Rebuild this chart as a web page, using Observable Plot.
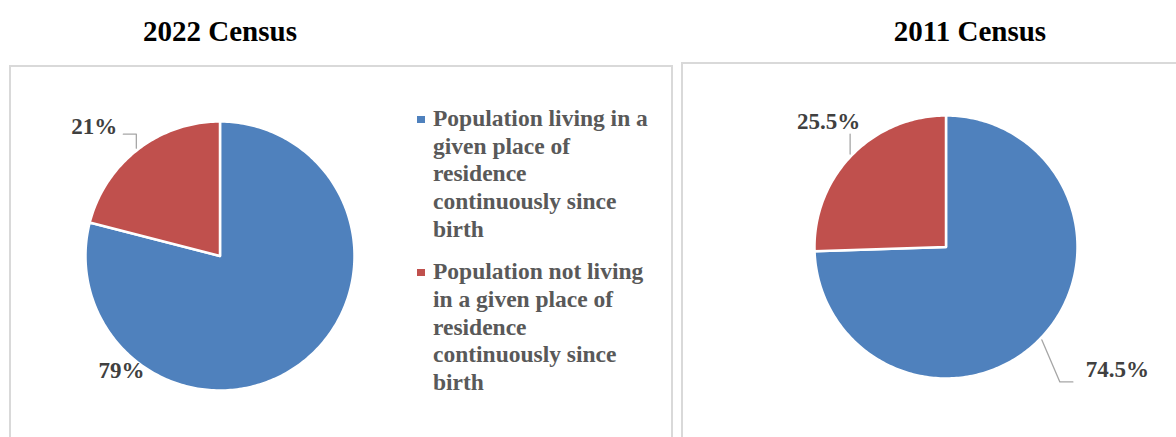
<!DOCTYPE html>
<html>
<head>
<meta charset="utf-8">
<script src="https://cdn.jsdelivr.net/npm/d3@7"></script>
<script src="https://cdn.jsdelivr.net/npm/@observablehq/plot@0.6"></script>
<style>
html, body { margin: 0; padding: 0; background: #fff; }
body { width: 1176px; height: 437px; position: relative; overflow: hidden; font-family: "Liberation Serif", "Times New Roman", serif; }
.panel { position: absolute; box-sizing: border-box; border: 2px solid #d9d9d9; background: #fff; }
.title { position: absolute; top: 14px; width: 300px; text-align: center; font-weight: bold; font-size: 29px; line-height: 34px; color: #000; white-space: nowrap; }
#chart { position: absolute; left: 0; top: 0; }
.legend { position: absolute; left: 433px; top: 105px; width: 221px; font-weight: bold; font-size: 23.5px; line-height: 27.7px; color: #595959; }
.legend .item { position: relative; margin-bottom: 14.8px; }
.legend .sw { position: absolute; left: -16px; top: 11px; width: 8px; height: 7px; }
</style>
</head>
<body>
<div class="panel" style="left:9px; top:65px; width:664px; height:400px;"></div>
<div class="panel" style="left:681px; top:62px; width:520px; height:400px;"></div>
<div id="titles"></div>
<div id="chart"></div>
<div class="legend" id="legend"></div>
<script>
// ---- data ----
const censuses = ["2022 Census", "2011 Census"];
const categories = [
  "Population living in a given place of residence continuously since birth",
  "Population not living in a given place of residence continuously since birth"
];
const shares2022 = [79, 21];
const shares2011 = [74.5, 25.5];
const labels2022 = ["79%", "21%"];
const labels2011 = ["74.5%", "25.5%"];
const colors = ["#4F81BD", "#C0504D"];

// ---- layout (positions/styles) ----
const W = 1176, H = 437;
const pieGeom = {
  "2022 Census": {cx: 219.5, cy: 255.5, r: 134.5, titleX: 220},
  "2011 Census": {cx: 945.5, cy: 246.5, r: 131.5, titleX: 970}
};
const labelLayout = {
  "2022 Census": [
    {angle: 225, dx: -2, dy: 25, anchor: "middle", leader: []},
    {dx: -19, dy: -14, anchor: "end", leader: [[0, -14], [-13, -14]]}
  ],
  "2011 Census": [
    {dx: 44, dy: 37, anchor: "start", leader: [[18, 42], [31, 42]]},
    {dx: 10, dy: -25, anchor: "end", leader: [[0, -20]]}
  ]
};

const sharesBy = {"2022 Census": shares2022, "2011 Census": shares2011};
const labelsBy = {"2022 Census": labels2022, "2011 Census": labels2011};

// titles
const titles = document.getElementById("titles");
for (const c of censuses) {
  const d = document.createElement("div");
  d.className = "title";
  d.style.left = (pieGeom[c].titleX - 150) + "px";
  d.textContent = c;
  titles.appendChild(d);
}

// legend
const legend = document.getElementById("legend");
categories.forEach((cat, i) => {
  const it = document.createElement("div");
  it.className = "item";
  const sw = document.createElement("span");
  sw.className = "sw";
  sw.style.background = colors[i];
  it.appendChild(sw);
  it.appendChild(document.createTextNode(cat));
  legend.appendChild(it);
});

// build geometry from values
const slicePts = [];
const leaderPts = [];
const labelRows = [];
for (const c of censuses) {
  const g = pieGeom[c];
  const rows = categories.map((cat, i) => ({census: c, category: cat, value: sharesBy[c][i], label: labelsBy[c][i], i}));
  const arcs = d3.pie().sort(null).value(d => d.value)(rows);
  arcs.forEach(a => {
    const key = c + "|" + a.data.category;
    const pt = (ang, rr) => ({x: g.cx + rr * Math.sin(ang), y: g.cy - rr * Math.cos(ang)});
    slicePts.push({key, category: a.data.category, x: g.cx, y: g.cy});
    const n = Math.max(2, Math.ceil((a.endAngle - a.startAngle) * 180 / Math.PI));
    for (let k = 0; k <= n; k++) {
      const ang = a.startAngle + (a.endAngle - a.startAngle) * k / n;
      slicePts.push({key, category: a.data.category, ...pt(ang, g.r)});
    }
    slicePts.push({key, category: a.data.category, x: g.cx, y: g.cy});
    const L = labelLayout[c][a.data.i];
    const mid = L.angle != null ? L.angle * Math.PI / 180 : (a.startAngle + a.endAngle) / 2;
    const anchor = pt(mid, g.r + 2);
    if (L.leader.length) {
      leaderPts.push({key, x: anchor.x, y: anchor.y});
      for (const [dx, dy] of L.leader) leaderPts.push({key, x: anchor.x + dx, y: anchor.y + dy});
    }
    labelRows.push({x: anchor.x + L.dx, y: anchor.y + L.dy, text: a.data.label, anchor: L.anchor});
  });
}

const textMarks = ["start", "middle", "end"].map(an =>
  Plot.text(labelRows.filter(d => d.anchor === an), {
    x: "x", y: "y", text: "text", textAnchor: an, lineAnchor: "bottom",
    fontFamily: "Liberation Serif", fontWeight: "bold", fontSize: 23, fill: "#404040"
  })
);

const plot = Plot.plot({
  width: W, height: H,
  margin: 0,
  style: {background: "transparent", maxWidth: "none"},
  x: {domain: [0, W], range: [0, W], axis: null},
  y: {domain: [0, H], range: [0, H], axis: null},
  color: {domain: categories, range: colors},
  marks: [
    Plot.line(slicePts, {x: "x", y: "y", z: "key", fill: "category", stroke: "white", strokeWidth: 2.5, strokeLinejoin: "round", curve: "linear"}),
    Plot.line(leaderPts, {x: "x", y: "y", z: "key", stroke: "#a6a6a6", strokeWidth: 1.3}),
    ...textMarks
  ]
});
document.getElementById("chart").appendChild(plot);
</script>
</body>
</html>
